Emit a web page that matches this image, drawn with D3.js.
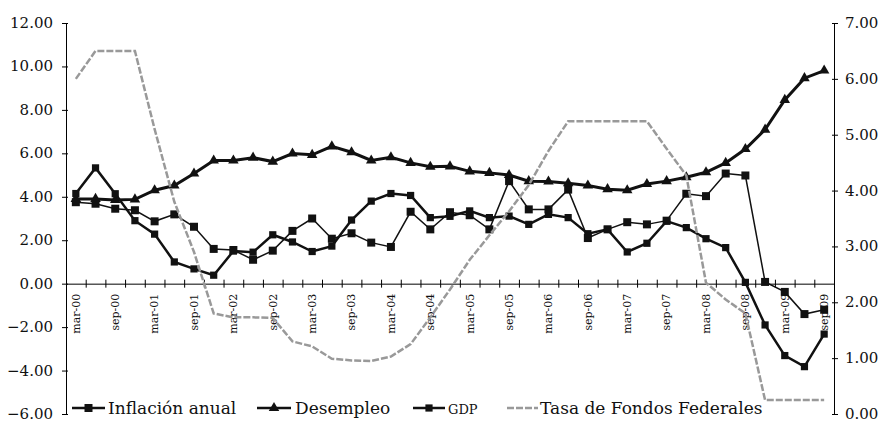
<!DOCTYPE html>
<html>
<head>
<meta charset="utf-8">
<script src="https://cdn.jsdelivr.net/npm/d3@7"></script>
<style>
  body { margin: 0; background: #fff; }
  svg { display: block; }
  text { font-family: "DejaVu Serif", serif; fill: #111; }
</style>
</head>
<body>
<div id="chart"></div>
<script>
/* ── data ── */
const quarters = [
  "mar-00","jun-00","sep-00","dec-00","mar-01","jun-01","sep-01","dec-01",
  "mar-02","jun-02","sep-02","dec-02","mar-03","jun-03","sep-03","dec-03",
  "mar-04","jun-04","sep-04","dec-04","mar-05","jun-05","sep-05","dec-05",
  "mar-06","jun-06","sep-06","dec-06","mar-07","jun-07","sep-07","dec-07",
  "mar-08","jun-08","sep-08","dec-08","mar-09","jun-09","sep-09"
];
const inflacion = [3.75, 3.68, 3.45, 3.38, 2.87, 3.19, 2.62, 1.6, 1.55, 1.1, 1.52, 2.43, 3.0,
  2.07, 2.32, 1.89, 1.69, 3.31, 2.5, 3.29, 3.15, 2.5, 4.72, 3.42, 3.42, 4.33, 2.1, 2.5, 2.83,
  2.73, 2.9, 4.14, 4.03, 5.07, 4.98, 0.08, -0.38, -1.4, -1.2];
const desempleo = [3.9, 3.9, 3.85, 3.88, 4.3, 4.52, 5.07, 5.67, 5.67, 5.8, 5.62, 5.99, 5.93,
  6.32, 6.05, 5.67, 5.82, 5.56, 5.38, 5.4, 5.17, 5.1, 5.0, 4.72, 4.7, 4.62, 4.52, 4.35, 4.3,
  4.59, 4.72, 4.9, 5.13, 5.56, 6.2, 7.09, 8.46, 9.46, 9.81];
const gdp = [4.15, 5.33, 4.14, 2.9, 2.28, 1.0, 0.68, 0.39, 1.5, 1.45, 2.25, 1.92, 1.48, 1.73,
  2.93, 3.8, 4.15, 4.06, 3.04, 3.1, 3.35, 3.04, 3.11, 2.73, 3.19, 3.04, 2.3, 2.5, 1.46, 1.86,
  2.88, 2.58, 2.07, 1.66, 0.06, -1.9, -3.31, -3.82, -2.32];
// right axis
const fondosFed = [6.0, 6.5, 6.5, 6.5, 5.1, 3.8, 2.9, 1.8, 1.73, 1.73, 1.72, 1.3, 1.21, 0.99,
  0.96, 0.95, 1.03, 1.25, 1.73, 2.23, 2.76, 3.2, 3.63, 4.1, 4.71, 5.24, 5.24, 5.24, 5.24, 5.24,
  4.75, 4.27, 2.35, 2.05, 1.8, 0.25, 0.25, 0.25, 0.25];

const leftTicks  = [-6, -4, -2, 0, 2, 4, 6, 8, 10, 12];
const rightTicks = [0, 1, 2, 3, 4, 5, 6, 7];
const labelMonths = ["mar", "sep"];

/* ── layout ── */
const W = 885, H = 422;
const plot = { left: 66, right: 834, top: 23, bottom: 414 };

const svg = d3.select("#chart").append("svg")
  .attr("width", W).attr("height", H);

const x = d3.scaleBand().domain(quarters).range([plot.left, plot.right]);
const xc = d => x(d) + x.bandwidth() / 2;
const xEdge = d3.scaleLinear().domain([0, quarters.length]).range([plot.left, plot.right]);
const yL = d3.scaleLinear().domain([-6, 12]).range([plot.bottom, plot.top]);
const yR = d3.scaleLinear().domain([0, 7]).range([plot.bottom, plot.top]);
const fmt = d3.format(".2f");

/* ── axes ── */
svg.append("g")
  .attr("transform", `translate(${plot.left},0)`)
  .call(d3.axisLeft(yL).tickValues(leftTicks).tickFormat(fmt).tickSizeOuter(0).tickSizeInner(4).tickPadding(9))
  .call(g => g.selectAll(".tick line").attr("x1", 2))
  .call(g => g.selectAll("text").attr("dy", "0.3em").style("font-size", "15px").style("font-family", "DejaVu Serif"));

svg.append("g")
  .attr("transform", `translate(${plot.right},0)`)
  .call(d3.axisRight(yR).tickValues(rightTicks).tickFormat(fmt).tickSizeOuter(0).tickSizeInner(4).tickPadding(7))
  .call(g => g.selectAll(".tick line").attr("x1", -2))
  .call(g => g.selectAll("text").attr("dy", "0.3em").style("font-size", "15px").style("font-family", "DejaVu Serif"));

// zero line with ticks on the category boundaries
svg.append("g")
  .attr("transform", `translate(0,${yL(0)})`)
  .call(d3.axisBottom(xEdge).tickValues(d3.range(1, quarters.length)).tickFormat("").tickSizeOuter(0))
  .call(g => g.selectAll(".tick line").attr("y1", -4).attr("y2", 4));

// rotated category labels
svg.append("g")
  .attr("transform", `translate(0,${yL(0)})`)
  .call(d3.axisBottom(x).tickSize(0)
    .tickFormat(d => labelMonths.includes(d.slice(0, 3)) ? d : ""))
  .call(g => g.select(".domain").remove())
  .call(g => g.selectAll("text")
    .attr("transform", "rotate(-90)")
    .attr("text-anchor", "end")
    .attr("x", -10).attr("y", 0).attr("dy", "0.35em")
    .style("font-size", "11px").style("font-family", "DejaVu Serif"));

/* ── series ── */
const lineL = d3.line().x((d, i) => xc(quarters[i])).y(d => yL(d));
const lineR = d3.line().x((d, i) => xc(quarters[i])).y(d => yR(d));

const series = [
  { name: "Inflación anual", values: inflacion, width: 1.5, symbol: d3.symbolSquare, size: 64 },
  { name: "Desempleo", values: desempleo, width: 3, symbol: d3.symbolTriangle, size: 48 },
  { name: "GDP", values: gdp, width: 2.5, symbol: d3.symbolSquare, size: 52 }
];

series.forEach(s => {
  svg.append("path")
    .datum(s.values)
    .attr("fill", "none").attr("stroke", "#111").attr("stroke-width", s.width)
    .attr("d", lineL);
  svg.append("g").selectAll("path")
    .data(s.values)
    .join("path")
      .attr("transform", (d, i) => `translate(${xc(quarters[i])},${yL(d)})`)
      .attr("d", d3.symbol(s.symbol, s.size))
      .attr("fill", "#111");
});

svg.append("path")
  .datum(fondosFed)
  .attr("fill", "none").attr("stroke", "#999").attr("stroke-width", 2.5)
  .attr("stroke-dasharray", "7,2")
  .attr("d", lineR);

/* ── legend ── */
const legY = 408;
const legend = [
  { label: "Inflación anual", x0: 72, x1: 105, tx: 108, fs: 17, s: series[0] },
  { label: "Desempleo", x0: 257, x1: 291, tx: 295, fs: 17, s: series[1] },
  { label: "GDP", x0: 413, x1: 445, tx: 448, fs: 13, s: series[2] },
  { label: "Tasa de Fondos Federales", x0: 507, x1: 538, tx: 540, fs: 17, s: null }
];
const lg = svg.append("g");
legend.forEach(l => {
  lg.append("line")
    .attr("x1", l.x0).attr("x2", l.x1).attr("y1", legY).attr("y2", legY)
    .attr("stroke", l.s ? "#111" : "#999")
    .attr("stroke-width", 2.5)
    .attr("stroke-dasharray", l.s ? null : "7,2");
  if (l.s) {
    lg.append("path")
      .attr("transform", `translate(${(l.x0 + l.x1) / 2},${legY})`)
      .attr("d", d3.symbol(l.s.symbol, l.s.size))
      .attr("fill", "#111");
  }
  lg.append("text")
    .attr("x", l.tx).attr("y", legY + 6)
    .style("font-size", l.fs + "px")
    .text(l.label);
});
</script>
</body>
</html>
